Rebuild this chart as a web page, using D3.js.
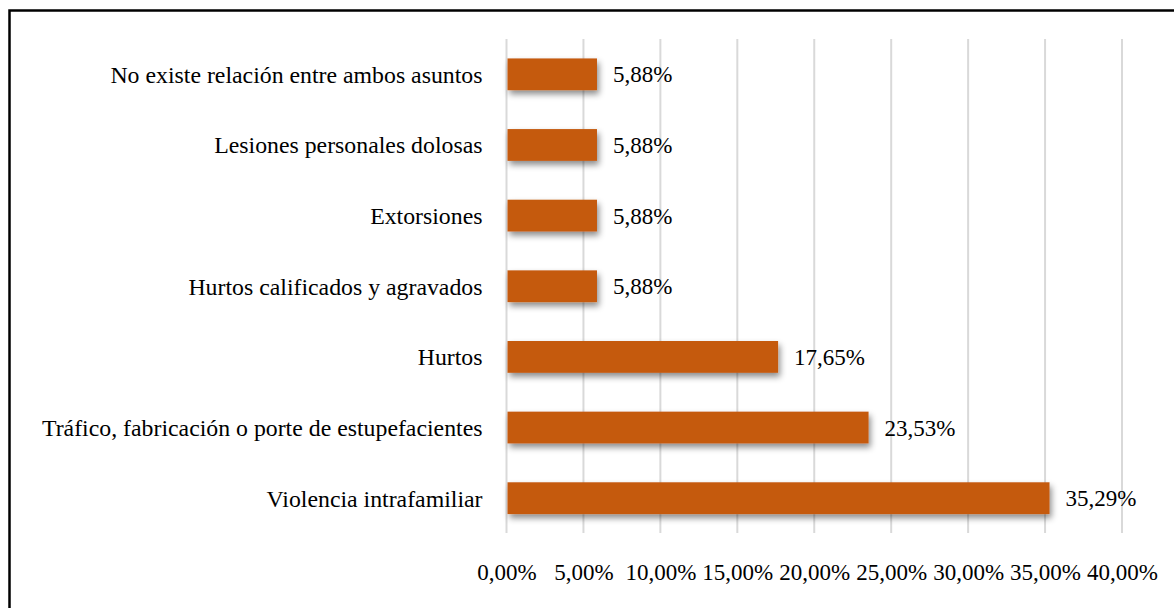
<!DOCTYPE html>
<html>
<head>
<meta charset="utf-8">
<script src="https://cdn.jsdelivr.net/npm/d3@7"></script>
<style>
  html, body { margin: 0; padding: 0; background: #fff; }
  svg { display: block; }
  svg text { font-family: 'Liberation Serif', 'Times New Roman', Times, serif; }
</style>
</head>
<body>
<svg id="chart"></svg>
<script>
'use strict';

// categories, top to bottom
const categories = [
  'No existe relación entre ambos asuntos',
  'Lesiones personales dolosas',
  'Extorsiones',
  'Hurtos calificados y agravados',
  'Hurtos',
  'Tráfico, fabricación o porte de estupefacientes',
  'Violencia intrafamiliar'
];
const values = [5.88, 5.88, 5.88, 5.88, 17.65, 23.53, 35.29];
const ticks = [0, 5, 10, 15, 20, 25, 30, 35, 40];

const width = 1174;
const height = 608;
const margin = {top: 39, right: 52, bottom: 75, left: 506.5};
const labelSize = 23.8;
const numberSize = 23;
const fmt = d => d.toFixed(2).replace('.', ',') + '%';

const svg = d3.select('#chart')
  .attr('width', width)
  .attr('height', height);

// drop shadow for bars
const defs = svg.append('defs');
defs.append('filter')
  .attr('id', 'shadow')
  .attr('x', '-10%').attr('y', '-30%')
  .attr('width', '130%').attr('height', '180%')
  .append('feDropShadow')
    .attr('dx', 2)
    .attr('dy', 4)
    .attr('stdDeviation', 3)
    .attr('flood-color', '#000')
    .attr('flood-opacity', 0.45);

const x = d3.scaleLinear()
  .domain([0, 40])
  .range([margin.left, width - margin.right]);

const y = d3.scaleBand()
  .domain(categories)
  .range([margin.top, height - margin.bottom + 0.5])
  .paddingInner(0.55)
  .paddingOuter(0.275);

// outer frame (right and bottom edges fall outside the picture)
svg.append('rect')
  .attr('x', 9.5)
  .attr('y', 10.5)
  .attr('width', width + 20)
  .attr('height', height + 20)
  .attr('fill', 'none')
  .attr('stroke', '#000')
  .attr('stroke-width', 2.5);

// vertical gridlines
svg.append('g')
  .selectAll('line')
  .data(ticks)
  .join('line')
    .attr('x1', d => x(d))
    .attr('x2', d => x(d))
    .attr('y1', margin.top)
    .attr('y2', height - margin.bottom)
    .attr('stroke', '#d9d9d9')
    .attr('stroke-width', 2);

// bars
svg.append('g')
  .selectAll('rect')
  .data(values)
  .join('rect')
    .attr('x', x(0) + 1)
    .attr('y', (d, i) => y(categories[i]))
    .attr('width', d => x(d) - x(0) - 1)
    .attr('height', y.bandwidth())
    .attr('fill', '#c55a11')
    .attr('filter', 'url(#shadow)');

// value labels
svg.append('g')
  .selectAll('text')
  .data(values)
  .join('text')
    .attr('x', d => x(d) + 16)
    .attr('y', (d, i) => y(categories[i]) + y.bandwidth() / 2)
    .attr('dy', '0.35em')
    .attr('font-size', numberSize)
    .attr('fill', '#000')
    .text(fmt);

// category labels
svg.append('g')
  .selectAll('text')
  .data(categories)
  .join('text')
    .attr('x', margin.left - 24)
    .attr('y', d => y(d) + y.bandwidth() / 2)
    .attr('dy', '0.35em')
    .attr('text-anchor', 'end')
    .attr('font-size', labelSize)
    .attr('fill', '#000')
    .text(d => d);

// x axis
const xAxis = svg.append('g')
  .attr('transform', `translate(0, 572)`)
  .call(d3.axisBottom(x).tickValues(ticks).tickFormat(fmt).tickSize(0));
xAxis.select('.domain').remove();
xAxis.selectAll('text')
  .attr('font-size', numberSize)
  .attr('fill', '#000')
  .attr('dy', '0.35em')
  .attr('y', 0);
</script>
</body>
</html>
